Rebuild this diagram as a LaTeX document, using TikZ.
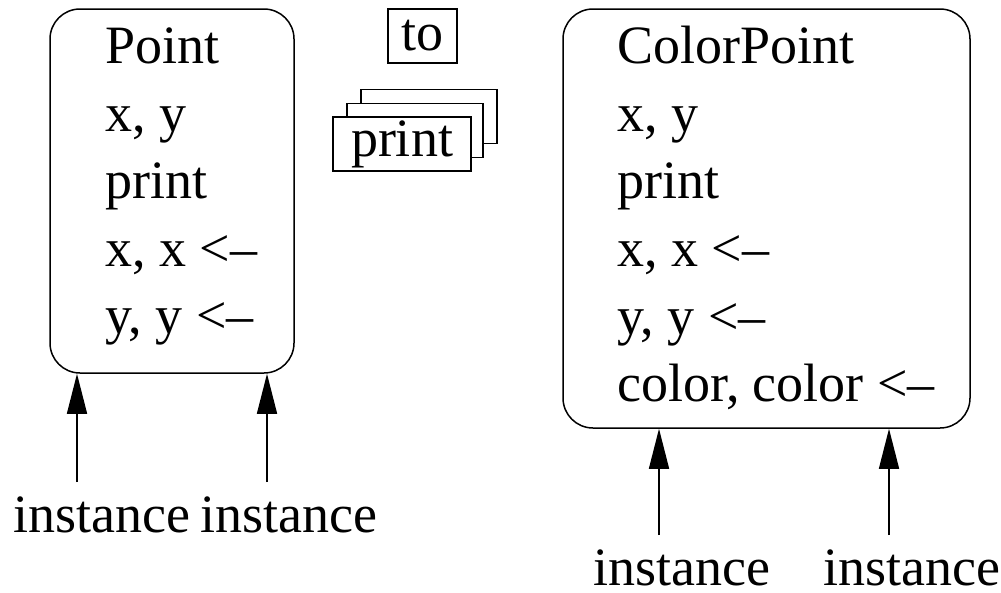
\documentclass[tikz,border=0pt]{standalone}
\usepackage{fontspec}
\setmainfont{Liberation Serif}
\usetikzlibrary{arrows.meta}

\begin{document}
\begin{tikzpicture}[x=1pt,y=-1pt,
    big/.style={font=\fontsize{54}{60}\selectfont},
    member/.style={big,anchor=base west,inner sep=0pt},
    classbox/.style={draw,line width=1.5pt,rounded corners=30pt},
    msgbox/.style={draw,fill=white,line width=1.2pt,big,inner sep=0pt,minimum height=54pt},
    inharrow/.style={line width=1.5pt,-{Triangle[length=40pt,width=20pt]}}]
  \useasboundingbox (0,0) rectangle (1001,592);
  % class Point
  \node[classbox,minimum width=244pt,minimum height=364pt] (point) at (172,191) {};
  \node[member] (pt1) at (105,63) {Point};
  \node[member] (pt2) at (105,131) {x, y};
  \node[member] (pt3) at (105,198) {print};
  \node[member] (pt4) at (105,266) {x, x <\textendash};
  \node[member] (pt5) at (105,333) {y, y <\textendash};
  % class ColorPoint
  \node[classbox,minimum width=407pt,minimum height=419pt] (cpoint) at (766.5,218.5) {};
  \node[member] (cp1) at (617,63) {ColorPoint};
  \node[member] (cp2) at (617,131) {x, y};
  \node[member] (cp3) at (617,198) {print};
  \node[member] (cp4) at (617,266) {x, x <\textendash};
  \node[member] (cp5) at (617,334) {y, y <\textendash};
  \node[member] (cp6) at (617,401) {color, color <\textendash};
  % messages
  \node[msgbox,minimum width=69pt] (to) at (422.5,36) {to};
  \node[msgbox,minimum width=136pt] (print3) at (429,116.5) {};
  \node[msgbox,minimum width=136pt] (print2) at (415,130.5) {};
  \node[msgbox,minimum width=138pt] (print1) at (402,144) {print};
  % instances
  \node[member] (inst1) at (13,532) {instance};
  \node[member] (inst2) at (200,532) {instance};
  \node[member] (inst3) at (593,585) {instance};
  \node[member] (inst4) at (823,585) {instance};
  \coordinate (a1) at (77,482);
  \coordinate (a2) at (267,482);
  \coordinate (a3) at (659,535);
  \coordinate (a4) at (889,535);
  \draw[inharrow] (a1) -- (a1 |- point.south);
  \draw[inharrow] (a2) -- (a2 |- point.south);
  \draw[inharrow] (a3) -- (a3 |- cpoint.south);
  \draw[inharrow] (a4) -- (a4 |- cpoint.south);
\end{tikzpicture}
\end{document}
